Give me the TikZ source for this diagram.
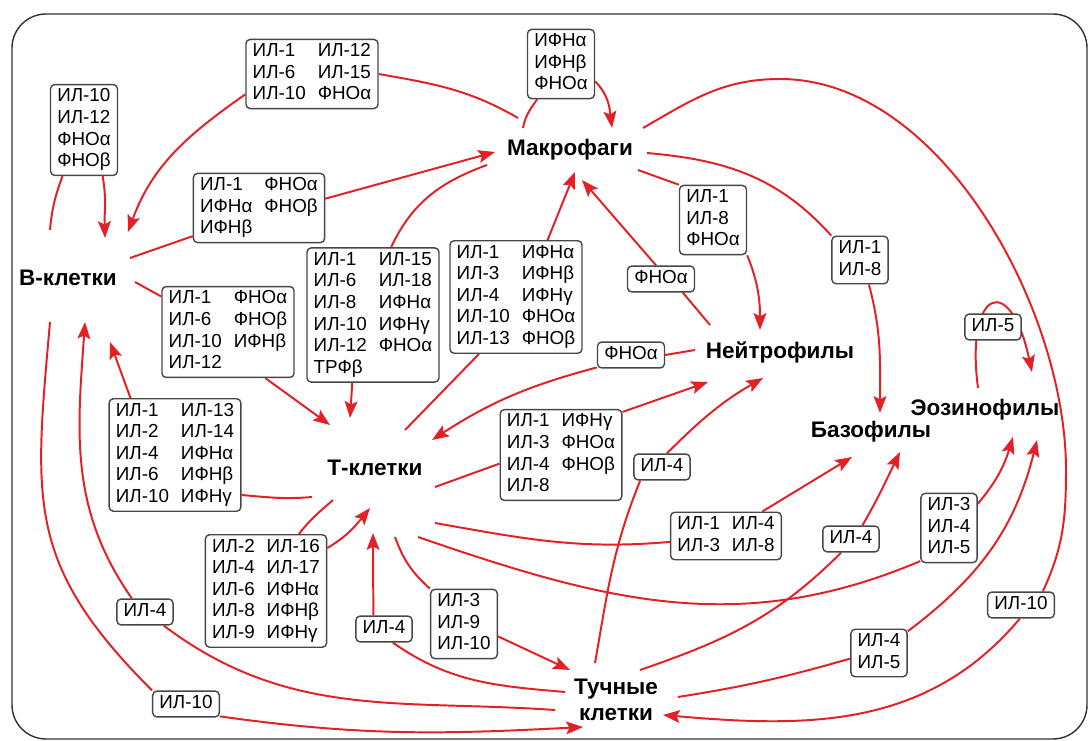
\documentclass[tikz,border=0pt]{standalone}
\usepackage{fontspec}
\setmainfont{Liberation Sans}
\usetikzlibrary{arrows.meta,backgrounds}
\definecolor{flow}{HTML}{E42026}
\definecolor{edge}{HTML}{474747}
\definecolor{rim}{HTML}{333333}
\newcommand{\cyto}[1]{\begin{tabular}{@{}l@{}}#1\end{tabular}}
\newcommand{\cytt}[1]{\begin{tabular}{@{}l@{\hspace{8.5pt}}l@{}}#1\end{tabular}}
\tikzset{
  cell/.style={font=\bfseries\fontsize{16}{18}\selectfont, align=center, inner sep=2pt},
  lbl/.style={draw=edge, line width=1pt, fill=white, rounded corners=3pt,
    inner xsep=4.8pt, inner ysep=1.5pt, font=\fontsize{13.4}{15.4}\selectfont},
  wire/.style={draw=flow, line width=1.4pt},
  arr/.style={wire, -{Stealth[length=4.2mm,width=3.2mm,inset=0.8mm]}}
}

\begin{document}
\begin{tikzpicture}[x=0.025cm, y=0.025cm]
  \useasboundingbox (0,0) rectangle (1088,-741);

  % cells
  \node[cell] (mac) at (570,-150) {Макрофаги};
  \node[cell] (bcl) at (68,-278) {В-клетки};
  \node[cell] (tcl) at (375,-468) {Т-клетки};
  \node[cell] (neu) at (780,-352) {Нейтрофилы};
  \node[cell] (bas) at (871,-432) {Базофилы};
  \node[cell] (eos) at (985,-410) {Эозинофилы};
  \node[cell] (mst) at (616,-700) {Тучные\\клетки};

  % cytokine boxes
  \node[lbl] (kB) at (84,-130) {\cyto{ИЛ-10\\ИЛ-12\\ФНОα\\ФНОβ}};
  \node[lbl] (kMB) at (312,-74) {\cytt{ИЛ-1&ИЛ-12\\ИЛ-6&ИЛ-15\\ИЛ-10&ФНОα}};
  \node[lbl] (kM) at (561,-64) {\cyto{ИФНα\\ИФНβ\\ФНОα}};
  \node[lbl] (kBM) at (259,-208) {\cytt{ИЛ-1&ФНОα\\ИФНα&ФНОβ\\ИФНβ}};
  \node[lbl] (kBT) at (228,-332) {\cytt{ИЛ-1&ФНОα\\ИЛ-6&ФНОβ\\ИЛ-10&ИФНβ\\ИЛ-12}};
  \node[lbl] (kMT) at (373,-315) {\cytt{ИЛ-1&ИЛ-15\\ИЛ-6&ИЛ-18\\ИЛ-8&ИФНα\\ИЛ-10&ИФНγ\\ИЛ-12&ФНОα\\ТРФβ}};
  \node[lbl] (kTM) at (516,-297) {\cytt{ИЛ-1&ИФНα\\ИЛ-3&ИФНβ\\ИЛ-4&ИФНγ\\ИЛ-10&ФНОα\\ИЛ-13&ФНОβ}};
  \node[lbl] (kMN) at (713,-220) {\cyto{ИЛ-1\\ИЛ-8\\ФНОα}};
  \node[lbl] (kNM) at (661,-279) {\cyto{ФНОα}};
  \node[lbl] (kNT) at (631,-355) {\cyto{ФНОα}};
  \node[lbl] (kTN) at (561,-455) {\cytt{ИЛ-1&ИФНγ\\ИЛ-3&ФНОα\\ИЛ-4&ФНОβ\\ИЛ-8}};
  \node[lbl] (kSN) at (662,-467) {\cyto{ИЛ-4}};
  \node[lbl] (kMBa) at (860,-260) {\cyto{ИЛ-1\\ИЛ-8}};
  \node[lbl] (kE) at (993,-327) {\cyto{ИЛ-5}};
  \node[lbl] (kMS) at (1021,-605) {\cyto{ИЛ-10}};
  \node[lbl] (kTBa) at (726,-536) {\cytt{ИЛ-1&ИЛ-4\\ИЛ-3&ИЛ-8}};
  \node[lbl] (kSBa) at (851,-539) {\cyto{ИЛ-4}};
  \node[lbl] (kTE) at (949,-528) {\cyto{ИЛ-3\\ИЛ-4\\ИЛ-5}};
  \node[lbl] (kSE) at (879,-653) {\cyto{ИЛ-4\\ИЛ-5}};
  \node[lbl] (kTS) at (464,-624) {\cyto{ИЛ-3\\ИЛ-9\\ИЛ-10}};
  \node[lbl] (kST) at (384,-629) {\cyto{ИЛ-4}};
  \node[lbl] (kTB) at (175,-455) {\cytt{ИЛ-1&ИЛ-13\\ИЛ-2&ИЛ-14\\ИЛ-4&ИФНα\\ИЛ-6&ИФНβ\\ИЛ-10&ИФНγ}};
  \node[lbl] (kT) at (266,-591) {\cytt{ИЛ-2&ИЛ-16\\ИЛ-4&ИЛ-17\\ИЛ-6&ИФНα\\ИЛ-8&ИФНβ\\ИЛ-9&ИФНγ}};
  \node[lbl] (kSB) at (145,-612) {\cyto{ИЛ-4}};
  \node[lbl] (kBS) at (186,-704) {\cyto{ИЛ-10}};

  \begin{scope}[on background layer]
    \draw[rim, line width=1pt, rounded corners=0.85cm] (12,-14) rectangle (1087,-739);

    % B-cells
    \draw[wire] ([shift={(-18,48)}]bcl.center) to[out=85,in=-110] (kB.245);
    \draw[arr] (kB.292) to[out=-80,in=92] ([shift={(37,40)}]bcl.center);
    \draw[wire] ([shift={(62,20)}]bcl.center) -- (kBM.203);
    \draw[arr] (kBM.8) -- ([shift={(-75,-2)}]mac.center);
    \draw[wire] ([shift={(67,-4)}]bcl.center) -- (kBT.152);
    \draw[arr] (kBT.-51) -- ([shift={(-45,43)}]tcl.center);
    \draw[wire] ([shift={(-18,-44)}]bcl.center) to[out=-95,in=135,looseness=1.2] (kBS.north west);
    \draw[arr] (kBS.-20) to[out=-8,in=183] ([shift={(-33,-27)}]mst.center);

    % macrophages
    \draw[wire] ([shift={(-52,32)}]mac.center) to[out=150,in=-10] (kMB.east);
    \draw[arr] (kMB.197) to[out=215,in=70] ([shift={(60,46)}]bcl.center);
    \draw[wire] ([shift={(-47,22)}]mac.center) to[out=80,in=-125] (kM.236);
    \draw[arr] (kM.-27) to[out=-45,in=97] ([shift={(42,22)}]mac.center);
    \draw[wire] ([shift={(-83,-15)}]mac.center) to[out=200,in=65] (kMT.75);
    \draw[arr] (kMT.253) -- ([shift={(-25,50)}]tcl.center);
    \draw[wire] ([shift={(68,-20)}]mac.center) -- (kMN.north west);
    \draw[arr] (kMN.south east) to[out=-68,in=90] ([shift={(-20,22)}]neu.center);
    \draw[wire] ([shift={(77,-3)}]mac.center) to[out=-5,in=132] (kMBa.north west);
    \draw[arr] (kMBa.-70) to[out=-75,in=90] ([shift={(9,19)}]bas.center);
    \draw[wire] ([shift={(73,22)}]mac.center) to[out=30,in=180] (780,-79)
      to[out=0,in=90,looseness=0.85] (1066,-470) to[out=-90,in=65] (kMS.32);
    \draw[arr] (kMS.-95) to[out=-130,in=-5] ([shift={(47,-15)}]mst.center);

    % T-cells
    \draw[wire] ([shift={(30,38)}]tcl.center) -- (kTM.237);
    \draw[arr] (kTM.61) -- ([shift={(5,-22)}]mac.center);
    \draw[wire] ([shift={(60,-19)}]tcl.center) -- (kTN.188);
    \draw[arr] (kTN.35) -- ([shift={(-72,-30)}]neu.center);
    \draw[wire] ([shift={(60,-55)}]tcl.center) to[out=-10,in=185] (kTBa.186);
    \draw[arr] (kTBa.34) -- ([shift={(-19,-25)}]bas.center);
    \draw[wire] ([shift={(43,-69)}]tcl.center) to[out=-19,in=203] (kTE.229);
    \draw[arr] (kTE.40) to[out=50,in=-107] ([shift={(28,-27)}]eos.center);
    \draw[wire] ([shift={(20,-69)}]tcl.center) to[out=-70,in=138] (kTS.north west);
    \draw[arr] (kTS.-20) -- ([shift={(-46,30)}]mst.center);
    \draw[wire] ([shift={(-63,-29)}]tcl.center) to[out=185,in=-5] (kTB.-31);
    \draw[arr] (kTB.128) -- ([shift={(42,-64)}]bcl.center);
    \draw[wire] ([shift={(-42,-32)}]tcl.center) to[out=221,in=52] (kT.60);
    \draw[arr] (kT.35) to[out=31,in=-129] ([shift={(-5,-40)}]tcl.center);

    % neutrophils
    \draw[wire] ([shift={(-70,27)}]neu.center) -- (kNM.-32);
    \draw[arr] (kNM.110) -- ([shift={(12,-30)}]mac.center);
    \draw[wire] ([shift={(-85,2)}]neu.center) -- (kNT.east);
    \draw[arr] (kNT.200) to[out=195,in=33] ([shift={(57,28)}]tcl.center);

    % eosinophils
    \draw[arr] ([shift={(-7,22)}]eos.center) .. controls (965,-290) and (1010,-270)
      .. ([shift={(47,38)}]eos.center);

    % mast cells
    \draw[wire] ([shift={(-21,37)}]mst.center) to[out=80,in=-112] (kSN.212);
    \draw[arr] (kSN.70) to[out=45,in=210] ([shift={(-17,-26)}]neu.center);
    \draw[wire] ([shift={(24,30)}]mst.center) to[out=19,in=225] (kSBa.234);
    \draw[arr] (kSBa.50) to[out=60,in=-116] ([shift={(29,-20)}]bas.center);
    \draw[wire] ([shift={(62,3)}]mst.center) to[out=9,in=196] (kSE.191);
    \draw[arr] (kSE.37) to[out=37,in=-104] ([shift={(52,-30)}]eos.center);
    \draw[wire] ([shift={(-51,8)}]mst.center) to[out=175,in=-35] (kST.-57);
    \draw[arr] (kST.128) -- ([shift={(-2,-65)}]tcl.center);
    \draw[wire] ([shift={(-61,-10)}]mst.center) to[out=176,in=-37] (kSB.-36);
    \draw[arr] (kSB.134) to[out=125,in=-94] ([shift={(17,-44)}]bcl.center);
  \end{scope}
\end{tikzpicture}
\end{document}
